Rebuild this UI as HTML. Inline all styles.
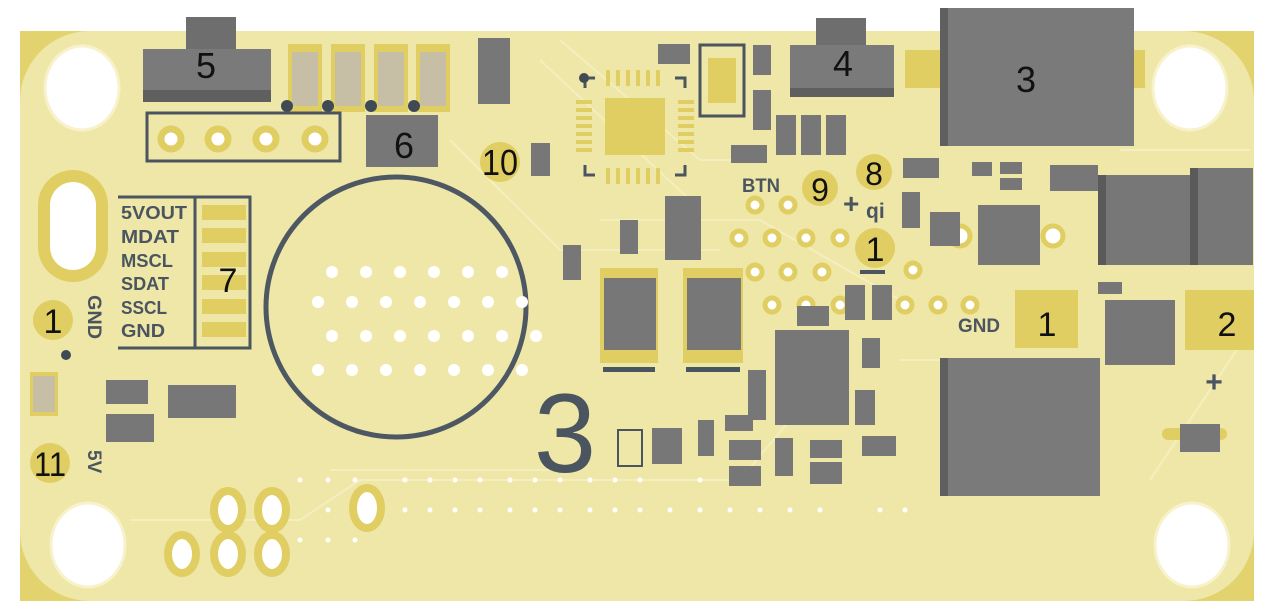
<!DOCTYPE html>
<html><head><meta charset="utf-8"><style>
html,body{margin:0;padding:0;background:#fff;}
svg{display:block;}
text{font-family:"Liberation Sans",sans-serif;}
</style></head><body>
<svg width="1271" height="616" viewBox="0 0 1271 616" xmlns="http://www.w3.org/2000/svg">
<!-- board -->
<rect x="20" y="31" width="1234" height="570" fill="#e3d36f"/>
<rect x="20" y="31" width="1234" height="570" rx="70" fill="#efe7a8"/>
<rect x="120" y="31" width="1030" height="570" fill="#efe7a8"/>
<g stroke="#f6f0c4" stroke-width="2" fill="none" opacity="0.8">
<path d="M560 40 L700 160 L740 160"/><path d="M540 60 L690 200"/><path d="M450 140 L560 250 L720 250"/>
<path d="M130 520 L300 520 L360 480 L740 480 L790 420"/><path d="M1120 150 L1250 150"/><path d="M900 360 L1100 360"/>
<path d="M600 220 L760 220 L900 300"/><path d="M330 470 L560 470"/><path d="M1150 480 L1250 330"/>
</g>
<g fill="#fff" stroke="#f7f2cc" stroke-width="3">
<ellipse cx="82" cy="88" rx="37" ry="42"/><ellipse cx="1190" cy="88" rx="37" ry="42"/>
<ellipse cx="88" cy="545" rx="37" ry="42"/><ellipse cx="1192" cy="545" rx="37" ry="42"/>
</g>
<rect x="38" y="170" width="70" height="112" rx="35" fill="#e0ce63"/>
<rect x="50" y="182" width="46" height="88" rx="23" fill="#fff"/>
<!-- 5 -->
<rect x="186" y="17" width="50" height="35" fill="#6e6e6e"/>
<rect x="143" y="49" width="128" height="52" fill="#7a7a7a"/>
<rect x="143" y="90" width="128" height="12" fill="#5f5f5f"/>
<text x="206" y="78" font-size="36" text-anchor="middle" fill="#111">5</text>
<g><rect x="288" y="44" width="34" height="68" fill="#e0ce63"/><rect x="292" y="52" width="26" height="54" fill="#c6bea5"/>
<rect x="331" y="44" width="34" height="68" fill="#e0ce63"/><rect x="335" y="52" width="26" height="54" fill="#c6bea5"/>
<rect x="374" y="44" width="34" height="68" fill="#e0ce63"/><rect x="378" y="52" width="26" height="54" fill="#c6bea5"/>
<rect x="416" y="44" width="34" height="68" fill="#e0ce63"/><rect x="420" y="52" width="26" height="54" fill="#c6bea5"/></g>
<g fill="#3f4a55"><circle cx="287" cy="106" r="6"/><circle cx="328" cy="106" r="6"/><circle cx="371" cy="106" r="6"/><circle cx="414" cy="106" r="6"/></g>
<rect x="478" y="38" width="32" height="66" fill="#777"/>
<rect x="147" y="113" width="193" height="48" fill="none" stroke="#4a5560" stroke-width="3"/>
<g fill="#fff" stroke="#e0ce63" stroke-width="7"><circle cx="171" cy="139" r="10"/><circle cx="218" cy="139" r="10"/><circle cx="266" cy="139" r="10"/><circle cx="315" cy="139" r="10"/></g>
<rect x="366" y="115" width="72" height="52" fill="#777"/>
<text x="404" y="158" font-size="36" text-anchor="middle" fill="#111">6</text>
<circle cx="500" cy="162" r="20" fill="#e0ce63"/>
<text x="500" y="175" font-size="36" text-anchor="middle" fill="#111" textLength="36" lengthAdjust="spacingAndGlyphs">10</text>
<rect x="531" y="143" width="19" height="33" fill="#777"/>
<!-- 7 -->
<path d="M118 197 H250 V348 H118" fill="none" stroke="#4a5560" stroke-width="3"/>
<line x1="195" y1="197" x2="195" y2="348" stroke="#4a5560" stroke-width="3"/>
<g fill="#e0ce63"><rect x="202" y="205" width="44" height="15"/><rect x="202" y="228" width="44" height="15"/><rect x="202" y="252" width="44" height="15"/><rect x="202" y="275" width="44" height="15"/><rect x="202" y="299" width="44" height="15"/><rect x="202" y="322" width="44" height="15"/></g>
<text x="228" y="292" font-size="34" text-anchor="middle" fill="#111">7</text>
<g fill="#4a5560" font-size="18" font-weight="bold" lengthAdjust="spacingAndGlyphs"><text x="121" y="219" textLength="66" lengthAdjust="spacingAndGlyphs">5VOUT</text><text x="121" y="243" textLength="58" lengthAdjust="spacingAndGlyphs">MDAT</text><text x="121" y="267" textLength="52" lengthAdjust="spacingAndGlyphs">MSCL</text><text x="121" y="290" textLength="48" lengthAdjust="spacingAndGlyphs">SDAT</text><text x="121" y="314" textLength="46" lengthAdjust="spacingAndGlyphs">SSCL</text><text x="121" y="337" textLength="44" lengthAdjust="spacingAndGlyphs">GND</text></g>
<circle cx="53" cy="320" r="20" fill="#e0ce63"/>
<text x="53" y="333" font-size="34" text-anchor="middle" fill="#111">1</text>
<text transform="translate(88,295) rotate(90)" font-size="19" font-weight="bold" fill="#4a5560" textLength="44" lengthAdjust="spacingAndGlyphs">GND</text>
<circle cx="66" cy="355" r="5" fill="#3f4a55"/>
<rect x="30" y="372" width="28" height="44" fill="#e0ce63"/><rect x="33" y="376" width="22" height="36" fill="#c6bea5"/>
<rect x="106" y="380" width="42" height="24" fill="#777"/><rect x="106" y="414" width="48" height="28" fill="#777"/>
<rect x="168" y="385" width="68" height="33" fill="#777"/>
<circle cx="50" cy="463" r="20" fill="#e0ce63"/>
<text x="50" y="476" font-size="34" text-anchor="middle" fill="#111" textLength="32" lengthAdjust="spacingAndGlyphs">11</text>
<text transform="translate(88,450) rotate(90)" font-size="19" font-weight="bold" fill="#4a5560">5V</text>
<!-- circle -->
<circle cx="396" cy="307" r="130" fill="none" stroke="#4d5863" stroke-width="5"/>
<g fill="#fff">
<circle cx="332" cy="272" r="6"/><circle cx="366" cy="272" r="6"/><circle cx="400" cy="272" r="6"/><circle cx="434" cy="272" r="6"/><circle cx="468" cy="272" r="6"/><circle cx="502" cy="272" r="6"/>
<circle cx="318" cy="302" r="6"/><circle cx="352" cy="302" r="6"/><circle cx="386" cy="302" r="6"/><circle cx="420" cy="302" r="6"/><circle cx="454" cy="302" r="6"/><circle cx="488" cy="302" r="6"/><circle cx="522" cy="302" r="6"/>
<circle cx="332" cy="336" r="6"/><circle cx="366" cy="336" r="6"/><circle cx="400" cy="336" r="6"/><circle cx="434" cy="336" r="6"/><circle cx="468" cy="336" r="6"/><circle cx="502" cy="336" r="6"/><circle cx="536" cy="336" r="6"/>
<circle cx="318" cy="370" r="6"/><circle cx="352" cy="370" r="6"/><circle cx="386" cy="370" r="6"/><circle cx="420" cy="370" r="6"/><circle cx="454" cy="370" r="6"/><circle cx="488" cy="370" r="6"/><circle cx="522" cy="370" r="6"/>
</g>
<!-- QFN -->
<g fill="#e0ce63">
<rect x="605" y="98" width="60" height="57"/>
<rect x="576" y="100" width="16" height="4"/><rect x="576" y="108" width="16" height="4"/><rect x="576" y="116" width="16" height="4"/><rect x="576" y="124" width="16" height="4"/><rect x="576" y="132" width="16" height="4"/><rect x="576" y="140" width="16" height="4"/><rect x="576" y="148" width="16" height="4"/>
<rect x="678" y="100" width="16" height="4"/><rect x="678" y="108" width="16" height="4"/><rect x="678" y="116" width="16" height="4"/><rect x="678" y="124" width="16" height="4"/><rect x="678" y="132" width="16" height="4"/><rect x="678" y="140" width="16" height="4"/><rect x="678" y="148" width="16" height="4"/>
<rect x="606" y="70" width="4" height="16"/><rect x="616" y="70" width="4" height="16"/><rect x="626" y="70" width="4" height="16"/><rect x="636" y="70" width="4" height="16"/><rect x="646" y="70" width="4" height="16"/><rect x="656" y="70" width="4" height="16"/>
<rect x="606" y="168" width="4" height="16"/><rect x="616" y="168" width="4" height="16"/><rect x="626" y="168" width="4" height="16"/><rect x="636" y="168" width="4" height="16"/><rect x="646" y="168" width="4" height="16"/><rect x="656" y="168" width="4" height="16"/>
</g>
<path d="M585 88 V78 H595 M675 78 H685 V88 M585 165 V175 H595 M675 175 H685 V165" fill="none" stroke="#4a5560" stroke-width="3"/>
<circle cx="584" cy="78" r="5" fill="#3f4a55"/>
<rect x="658" y="44" width="32" height="20" fill="#777"/>
<rect x="700" y="45" width="44" height="71" fill="none" stroke="#4a5560" stroke-width="3"/>
<rect x="708" y="58" width="28" height="45" fill="#e0ce63"/>
<rect x="753" y="45" width="18" height="30" fill="#777"/><rect x="753" y="90" width="18" height="40" fill="#777"/>
<rect x="731" y="145" width="36" height="18" fill="#777"/>
<rect x="776" y="115" width="20" height="40" fill="#777"/><rect x="801" y="115" width="20" height="40" fill="#777"/><rect x="826" y="115" width="20" height="40" fill="#777"/>
<!-- 4 -->
<rect x="816" y="18" width="50" height="30" fill="#6e6e6e"/>
<rect x="790" y="45" width="104" height="52" fill="#7a7a7a"/>
<rect x="790" y="88" width="104" height="9" fill="#5f5f5f"/>
<text x="843" y="76" font-size="36" text-anchor="middle" fill="#111">4</text>
<!-- 3 -->
<rect x="905" y="50" width="240" height="38" fill="#e0ce63"/>
<rect x="940" y="8" width="194" height="138" fill="#7a7a7a"/>
<rect x="940" y="8" width="8" height="138" fill="#5f5f5f"/>
<text x="1026" y="92" font-size="36" text-anchor="middle" fill="#111">3</text>
<!-- 8 9 -->
<circle cx="874" cy="172" r="18" fill="#e0ce63"/><text x="874" y="185" font-size="32" text-anchor="middle" fill="#111">8</text>
<circle cx="820" cy="188" r="18" fill="#e0ce63"/><text x="820" y="201" font-size="32" text-anchor="middle" fill="#111">9</text>
<text x="742" y="192" font-size="19" font-weight="bold" fill="#4a5560" textLength="38" lengthAdjust="spacingAndGlyphs">BTN</text>
<text x="843" y="213" font-size="28" font-weight="bold" fill="#4a5560">+</text><text x="866" y="218" font-size="21" font-weight="bold" fill="#4a5560">qi</text>
<circle cx="875" cy="248" r="20" fill="#e0ce63"/><text x="875" y="261" font-size="34" text-anchor="middle" fill="#111">1</text>
<rect x="860" y="270" width="25" height="4" fill="#4a5560"/>
<g fill="#fff" stroke="#e0ce63" stroke-width="5">
<circle cx="755" cy="205" r="7"/><circle cx="788" cy="205" r="7"/>
<circle cx="739" cy="238" r="7"/><circle cx="772" cy="238" r="7"/><circle cx="806" cy="238" r="7"/><circle cx="840" cy="238" r="7"/>
<circle cx="755" cy="272" r="7"/><circle cx="788" cy="272" r="7"/><circle cx="822" cy="272" r="7"/><circle cx="913" cy="270" r="7"/>
<circle cx="772" cy="305" r="7"/><circle cx="806" cy="305" r="7"/><circle cx="840" cy="305" r="7"/><circle cx="905" cy="305" r="7"/><circle cx="938" cy="305" r="7"/><circle cx="970" cy="305" r="7"/>
<circle cx="960" cy="236" r="10"/><circle cx="1053" cy="236" r="10"/>
</g>
<rect x="903" y="158" width="36" height="20" fill="#777"/><rect x="902" y="192" width="18" height="36" fill="#777"/>
<rect x="930" y="212" width="30" height="34" fill="#777"/>
<rect x="978" y="205" width="62" height="60" fill="#777"/>
<rect x="972" y="162" width="20" height="14" fill="#777"/><rect x="1000" y="162" width="22" height="12" fill="#777"/><rect x="1000" y="178" width="22" height="12" fill="#777"/>
<rect x="1050" y="165" width="48" height="26" fill="#777"/>
<rect x="1098" y="175" width="95" height="90" fill="#777"/><rect x="1098" y="175" width="8" height="90" fill="#5a5a5a"/>
<rect x="1195" y="168" width="58" height="97" fill="#777"/><rect x="1190" y="168" width="8" height="97" fill="#5a5a5a"/>
<rect x="1098" y="282" width="24" height="12" fill="#777"/>
<rect x="1015" y="290" width="63" height="58" fill="#e0ce63"/>
<text x="1047" y="336" font-size="34" text-anchor="middle" fill="#111">1</text>
<text x="958" y="332" font-size="19" font-weight="bold" fill="#4a5560" textLength="42" lengthAdjust="spacingAndGlyphs">GND</text>
<rect x="1185" y="290" width="69" height="60" fill="#e0ce63"/>
<text x="1227" y="336" font-size="34" text-anchor="middle" fill="#111">2</text>
<rect x="1105" y="300" width="70" height="65" fill="#777"/>
<text x="1214" y="392" font-size="30" font-weight="bold" text-anchor="middle" fill="#4a5560">+</text>
<rect x="1162" y="428" width="65" height="12" rx="6" fill="#e0ce63"/>
<rect x="1180" y="424" width="40" height="28" fill="#777"/>
<rect x="940" y="358" width="160" height="138" fill="#7a7a7a"/><rect x="940" y="358" width="8" height="138" fill="#5f5f5f"/>
<!-- middle -->
<rect x="600" y="268" width="58" height="95" fill="#e0ce63"/><rect x="604" y="278" width="52" height="72" fill="#777"/>
<rect x="683" y="268" width="60" height="95" fill="#e0ce63"/><rect x="687" y="278" width="54" height="72" fill="#777"/>
<rect x="603" y="367" width="52" height="5" fill="#4a5560"/><rect x="686" y="367" width="54" height="5" fill="#4a5560"/>
<rect x="665" y="196" width="36" height="64" fill="#777"/><rect x="620" y="220" width="18" height="34" fill="#777"/><rect x="563" y="245" width="18" height="35" fill="#777"/>
<rect x="775" y="330" width="74" height="95" fill="#777"/>
<rect x="797" y="306" width="32" height="20" fill="#777"/>
<rect x="845" y="285" width="20" height="35" fill="#777"/><rect x="872" y="285" width="20" height="35" fill="#777"/>
<rect x="862" y="338" width="18" height="30" fill="#777"/><rect x="855" y="390" width="20" height="35" fill="#777"/>
<rect x="748" y="370" width="18" height="50" fill="#777"/>
<text x="565" y="472" font-size="112" text-anchor="middle" fill="#4a5560">3</text>
<rect x="618" y="430" width="24" height="36" fill="none" stroke="#4a5560" stroke-width="2"/>
<rect x="652" y="428" width="30" height="36" fill="#777"/>
<rect x="698" y="420" width="16" height="36" fill="#777"/>
<rect x="725" y="415" width="28" height="16" fill="#777"/><rect x="729" y="440" width="32" height="20" fill="#777"/><rect x="729" y="466" width="32" height="20" fill="#777"/>
<rect x="775" y="438" width="18" height="38" fill="#777"/>
<rect x="810" y="440" width="32" height="18" fill="#777"/><rect x="810" y="462" width="32" height="22" fill="#777"/>
<rect x="862" y="436" width="34" height="20" fill="#777"/>
<!-- bottom left pads -->
<g fill="#fff" stroke="#e0ce63" stroke-width="8">
<ellipse cx="228" cy="510" rx="14" ry="19"/><ellipse cx="272" cy="510" rx="14" ry="19"/><ellipse cx="367" cy="508" rx="14" ry="20"/>
<ellipse cx="182" cy="554" rx="14" ry="19"/><ellipse cx="228" cy="554" rx="14" ry="19"/><ellipse cx="272" cy="554" rx="14" ry="19"/>
</g>
<g fill="#fff">
<circle cx="300" cy="480" r="2.5"/><circle cx="328" cy="480" r="2.5"/><circle cx="355" cy="480" r="2.5"/><circle cx="405" cy="480" r="2.5"/><circle cx="430" cy="480" r="2.5"/><circle cx="455" cy="480" r="2.5"/><circle cx="480" cy="480" r="2.5"/><circle cx="510" cy="480" r="2.5"/><circle cx="535" cy="480" r="2.5"/><circle cx="560" cy="480" r="2.5"/><circle cx="590" cy="480" r="2.5"/><circle cx="615" cy="480" r="2.5"/><circle cx="640" cy="480" r="2.5"/><circle cx="700" cy="480" r="2.5"/>
<circle cx="328" cy="510" r="2.5"/><circle cx="405" cy="510" r="2.5"/><circle cx="430" cy="510" r="2.5"/><circle cx="455" cy="510" r="2.5"/><circle cx="480" cy="510" r="2.5"/><circle cx="510" cy="510" r="2.5"/><circle cx="535" cy="510" r="2.5"/><circle cx="560" cy="510" r="2.5"/><circle cx="590" cy="510" r="2.5"/><circle cx="615" cy="510" r="2.5"/><circle cx="640" cy="510" r="2.5"/><circle cx="670" cy="510" r="2.5"/><circle cx="700" cy="510" r="2.5"/><circle cx="730" cy="510" r="2.5"/><circle cx="760" cy="510" r="2.5"/><circle cx="790" cy="510" r="2.5"/><circle cx="820" cy="510" r="2.5"/><circle cx="880" cy="510" r="2.5"/><circle cx="905" cy="510" r="2.5"/>
<circle cx="300" cy="540" r="2.5"/><circle cx="328" cy="540" r="2.5"/><circle cx="355" cy="540" r="2.5"/>
</g>
</svg>
</body></html>
